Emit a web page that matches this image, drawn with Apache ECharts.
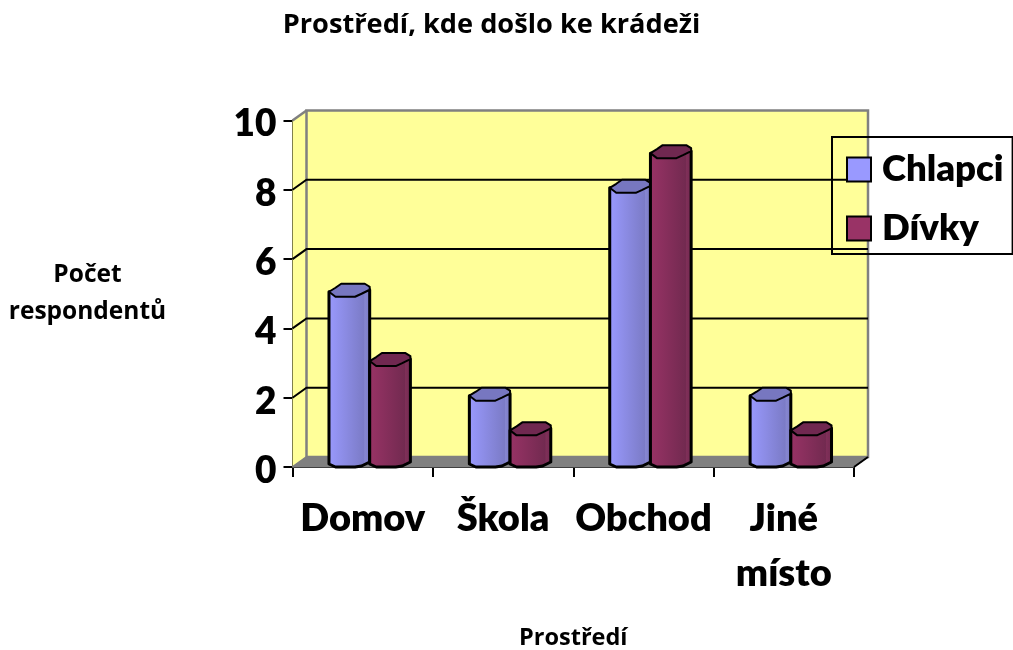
<!DOCTYPE html>
<html><head><meta charset="utf-8">
<style>html,body{margin:0;padding:0;background:#fff}#c{width:1013px;height:650px}</style>
<script src="https://cdn.jsdelivr.net/npm/echarts@6/dist/echarts.min.js"></script>
</head><body><div id="c"></div>
<script>
const categories = ['Domov', 'Škola', 'Obchod', 'Jiné\nmísto'];
const chlapci = [5, 2, 8, 2];
const divky = [3, 1, 9, 1];
const yTicks = [0, 2, 4, 6, 8, 10];
const FONT = 'Lato, Carlito, "Open Sans", sans-serif';
const SMALL = '"Open Sans", Lato, sans-serif';
const DX = 14, DY = -10;

function renderWall(params, api) {
  const f0 = api.coord([0, 0]);
  const band = api.size([1, 0])[0];
  const x0 = f0[0] - band / 2, x1 = x0 + band * categories.length, y0 = f0[1];
  const y10 = api.coord([0, 10])[1];
  const kids = [];
  const grey = '#808080';
  kids.push({type:'polygon',shape:{points:[[x0,y0],[x0+DX,y0+DY],[x0+DX,y10+DY],[x0,y10]]},style:{fill:'#FFFF99',stroke:null}});
  kids.push({type:'rect',shape:{x:x0+DX,y:y10+DY,width:x1-x0,height:y0-y10},style:{fill:'#FFFF99',stroke:grey,lineWidth:2.5}});
  kids.push({type:'polygon',shape:{points:[[x0,y0],[x1,y0],[x1+DX,y0+DY],[x0+DX,y0+DY]]},style:{fill:grey,stroke:grey,lineWidth:1}});
  kids.push({type:'line',shape:{x1:x0,y1:y10,x2:x0+DX,y2:y10+DY},style:{stroke:grey,lineWidth:2.5}});
  yTicks.forEach(t => {
    if (t === 0 || t === 10) return;
    const y = api.coord([0, t])[1];
    kids.push({type:'polyline',shape:{points:[[x0,y],[x0+DX,y+DY],[x1+DX,y+DY]]},style:{stroke:'#000',lineWidth:2,fill:null}});
  });
  kids.push({type:'line',shape:{x1:x1,y1:y0,x2:x1+DX,y2:y0+DY},style:{stroke:'#000',lineWidth:2}});
  kids.push({type:'line',shape:{x1:x0,y1:y0,x2:x0+DX,y2:y0+DY},style:{stroke:grey,lineWidth:2}});
  return {type:'group',children:kids};
}

function cylinder(side, stops, cap) {
  return function (params, api) {
    const p = api.coord([api.value(0), api.value(1)]);
    const base = api.coord([api.value(0), 0]);
    const band = api.size([1, 0])[0];
    const w = band * 0.29;
    const cx = base[0] + DX / 2;
    const L = side < 0 ? cx - w : cx;
    const topY = p[1] - 2, botY = base[1];
    const X = f => L + f * w;
    const body = [[X(0),topY],[X(1),topY-2],[X(1),botY-5],[X(.8),botY-1],[X(.64),botY],[X(.16),botY],[X(0),botY-3]];
    const top = [[X(0),topY],[X(.16),topY-4],[X(.3),topY-8],[X(.88),topY-8],[X(1),topY-5],[X(1),topY-2],[X(.8),topY+2],[X(.64),topY+5],[X(.16),topY+5]];
    return {type:'group',children:[
      {type:'polygon',shape:{points:body},style:{lineWidth:3,stroke:'#000',lineJoin:'round',
        fill:new echarts.graphic.LinearGradient(0,0,1,0,stops)}},
      {type:'polygon',shape:{points:top},style:{fill:cap,stroke:'#000',lineWidth:2,lineJoin:'round'}}
    ]};
  };
}
const blueStops = [{offset:0,color:'#9A9AFF'},{offset:.84,color:'#7B7BC6'},{offset:.85,color:'#8686D0'},{offset:1,color:'#7A7AC4'}];
const redStops = [{offset:0,color:'#993366'},{offset:.84,color:'#722A50'},{offset:.85,color:'#7F2F58'},{offset:1,color:'#722A50'}];

const chart = echarts.init(document.getElementById('c'), null, {renderer:'canvas'});
chart.setOption({
  animation:false,
  backgroundColor:'#fff',
  textStyle:{fontFamily:FONT},
  title:{text:'Prostředí, kde došlo ke krádeži',left:486.5,top:7,textAlign:'center',
    textStyle:{fontFamily:SMALL,fontSize:27.2,fontWeight:'bold',color:'#000'}},
  grid:{left:292.5,right:159,top:120.5,bottom:183,containLabel:false,outerBoundsMode:'none'},
  legend:{orient:'vertical',left:832,top:137,padding:[14,9,7,14],itemWidth:24,itemHeight:24,itemGap:22,
    icon:'rect',borderColor:'#000',borderWidth:2,data:['Chlapci','Dívky'],
    itemStyle:{borderColor:'#000',borderWidth:2},
    textStyle:{fontFamily:FONT,fontSize:36.5,fontWeight:800,color:'#000',padding:[0,0,0,6]}},
  xAxis:{type:'category',data:categories,name:'Prostředí',nameLocation:'middle',nameGap:159,
    nameTextStyle:{fontFamily:SMALL,fontSize:23.5,fontWeight:'bold',color:'#000'},
    axisLine:{lineStyle:{color:'#000',width:2}},
    axisTick:{show:true,length:10,lineStyle:{color:'#000',width:2}},
    axisLabel:{fontFamily:FONT,fontSize:38,fontWeight:800,color:'#000',margin:24,lineHeight:55,interval:0}},
  yAxis:{type:'value',min:0,max:10,interval:2,name:'Počet\nrespondentů',nameLocation:'middle',nameRotate:0,nameGap:205,
    nameTextStyle:{fontFamily:SMALL,fontSize:24.5,fontWeight:'bold',color:'#000',lineHeight:37,align:'center'},
    axisLine:{show:true,lineStyle:{color:'#000',width:2}},
    axisTick:{show:true,length:9,lineStyle:{color:'#000',width:2}},
    splitLine:{show:false},
    axisLabel:{fontFamily:FONT,fontSize:37,fontWeight:800,color:'#000',margin:16,verticalAlign:'top',lineHeight:8}},
  series:[
    {type:'custom',name:'wall',silent:true,z:1,clip:false,data:[[0,0]],encode:{x:0,y:1},renderItem:renderWall},
    {type:'custom',name:'Chlapci',z:3,clip:false,itemStyle:{color:'#9999FF'},data:chlapci.map((v,i)=>[i,v]),encode:{x:0,y:1},renderItem:cylinder(-1,blueStops,'#7777C0')},
    {type:'custom',name:'Dívky',z:4,clip:false,itemStyle:{color:'#993366'},data:divky.map((v,i)=>[i,v]),encode:{x:0,y:1},renderItem:cylinder(1,redStops,'#702850')}
  ]
});
</script></body></html>
